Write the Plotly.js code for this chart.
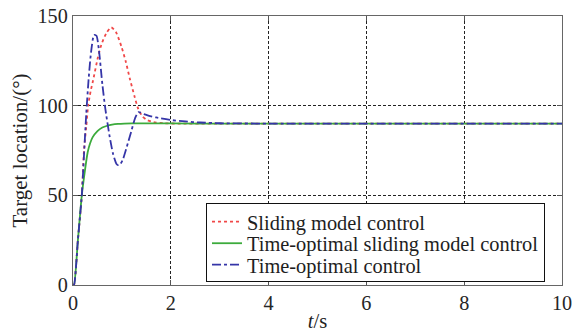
<!DOCTYPE html>
<html>
<head>
<meta charset="utf-8">
<script src="https://cdn.plot.ly/plotly-3.0.1.min.js"></script>
<style>
html,body{margin:0;padding:0;background:#fff;}
#chart{width:580px;height:332px;}
#chart svg text{font-family:'Liberation Serif', serif !important;}
</style>
</head>
<body>
<div id="chart"></div>
<script>
// Time axis (s) and target location (deg) for each controller
const tSliding = [0, 0.02, 0.1, 0.18, 0.225, 0.27, 0.31, 0.36, 0.41, 0.51, 0.58, 0.68, 0.78, 0.88, 0.99, 1.08, 1.16, 1.26, 1.33, 1.42, 1.51, 1.65, 1.85, 2.2, 3, 10];
const ySliding = [0, 0, 25, 50, 75, 88, 100, 108, 114, 127, 134, 140.4, 143.7, 141, 133, 124.5, 115.3, 105, 98.5, 94, 92, 90.8, 90.2, 90, 90, 90];

const tTimeOptSliding = [0, 0.02, 0.1, 0.18, 0.25, 0.3, 0.35, 0.4, 0.5, 0.6, 0.7, 0.8, 0.92, 1.05, 1.2, 1.5, 2, 3, 10];
const yTimeOptSliding = [0, 0, 25, 50, 65, 74, 79, 82.3, 85.8, 87.8, 88.8, 89.4, 89.8, 90, 90.1, 90.1, 90.1, 90, 90];

const tTimeOpt = [0, 0.02, 0.1, 0.18, 0.22, 0.27, 0.32, 0.37, 0.43, 0.48, 0.53, 0.6, 0.66, 0.75, 0.82, 0.89, 0.93, 0.97, 1.02, 1.1, 1.19, 1.27, 1.34, 1.45, 1.6, 1.8, 2.0, 2.3, 2.6, 3.0, 4, 10];
const yTimeOpt = [0, 0, 25, 50, 70, 95, 115, 130, 139.4, 139, 131, 112, 98.5, 82.7, 73, 67.5, 66.8, 67.5, 70, 77, 85.5, 93, 96.4, 95.3, 94, 92.9, 92, 91.2, 90.6, 90.2, 90, 90];

const seriesNames = ['Sliding model control', 'Time-optimal sliding model control', 'Time-optimal control'];
const xTicks = [0, 2, 4, 6, 8, 10];
const yTicks = [0, 50, 100, 150];

const FAMILY = 'Liberation Serif';

const traces = [
  {x: tSliding, y: ySliding, name: seriesNames[0], mode: 'lines',
   line: {color: '#f04848', width: 1.8, dash: 'dot', shape: 'spline', smoothing: 0.6}},
  {x: tTimeOptSliding, y: yTimeOptSliding, name: seriesNames[1], mode: 'lines',
   line: {color: '#3cab3c', width: 1.8, shape: 'spline', smoothing: 0.6}},
  {x: tTimeOpt, y: yTimeOpt, name: seriesNames[2], mode: 'lines',
   line: {color: '#3535a8', width: 1.8, dash: 'dashdot', shape: 'spline', smoothing: 0.6}}
];

const axisCommon = () => ({
  showline: true, linecolor: '#666', linewidth: 1.2, mirror: 'ticks',
  ticks: 'inside', ticklen: 5, tickcolor: '#555', tickwidth: 1,
  showgrid: true, gridcolor: '#222', gridwidth: 1, griddash: '3px,2px',
  zeroline: false, tickfont: {family: FAMILY, size: 20.2, color: '#262626'}
});

const layout = {
  width: 580, height: 332,
  margin: {l: 73, r: 18, t: 16, b: 47},
  paper_bgcolor: '#fff', plot_bgcolor: '#fff',
  font: {family: FAMILY, size: 13, color: '#333'},
  showlegend: true,
  legend: {x: 0.272, y: 0.305, xanchor: 'left', yanchor: 'top',
           bgcolor: '#fff', bordercolor: '#111', borderwidth: 1,
           font: {family: FAMILY, size: 20.4, color: '#1e1e1e'}, tracegroupgap: 0},
  xaxis: Object.assign(axisCommon(), {
    range: [0, 10], tickvals: xTicks, ticktext: xTicks.map(String),
    title: {text: '<i>t</i>/s', font: {family: FAMILY, size: 20.6, color: '#222'}, standoff: 2}
  }),
  yaxis: Object.assign(axisCommon(), {
    range: [0, 150], tickvals: yTicks, ticktext: yTicks.map(String),
    title: {text: 'Target location/(°)', font: {family: FAMILY, size: 21, color: '#222'}, standoff: 4}
  })
};

function tightenLegend(gd) {
  // tighten legend row spacing to match the reference (~21.5px per row)
  const legend = gd.querySelector('.legend');
  if (!legend) return;
  const rows = legend.querySelectorAll('.traces');
  if (rows.length < 2) return;
  const parse = el => {
    const m = /translate\(\s*([-\d.]+)[ ,]+([-\d.]+)\s*\)/.exec(el.getAttribute('transform') || '');
    return m ? [parseFloat(m[1]), parseFloat(m[2])] : [0, 0];
  };
  const p0 = parse(rows[0]);
  const p1 = parse(rows[1]);
  const oldStep = p1[1] - p0[1];
  const newStep = 21.5;
  if (Math.abs(oldStep - newStep) < 0.5) return;
  const y0 = p0[1] - 2;
  rows.forEach((r, i) => {
    const p = parse(r);
    r.setAttribute('transform', 'translate(' + p[0] + ',' + (y0 + i * newStep) + ')');
  });
  const bg = legend.querySelector('rect.bg');
  if (bg) {
    const h = parseFloat(bg.getAttribute('height'));
    bg.setAttribute('height', h - (rows.length - 1) * (oldStep - newStep) - 6);
  }
}

Plotly.newPlot('chart', traces, layout, {displayModeBar: false, staticPlot: true}).then(function (gd) {
  tightenLegend(gd);
  gd.on('plotly_afterplot', function () { tightenLegend(gd); });
  setTimeout(function () { tightenLegend(gd); }, 30);
});
</script>
</body>
</html>
